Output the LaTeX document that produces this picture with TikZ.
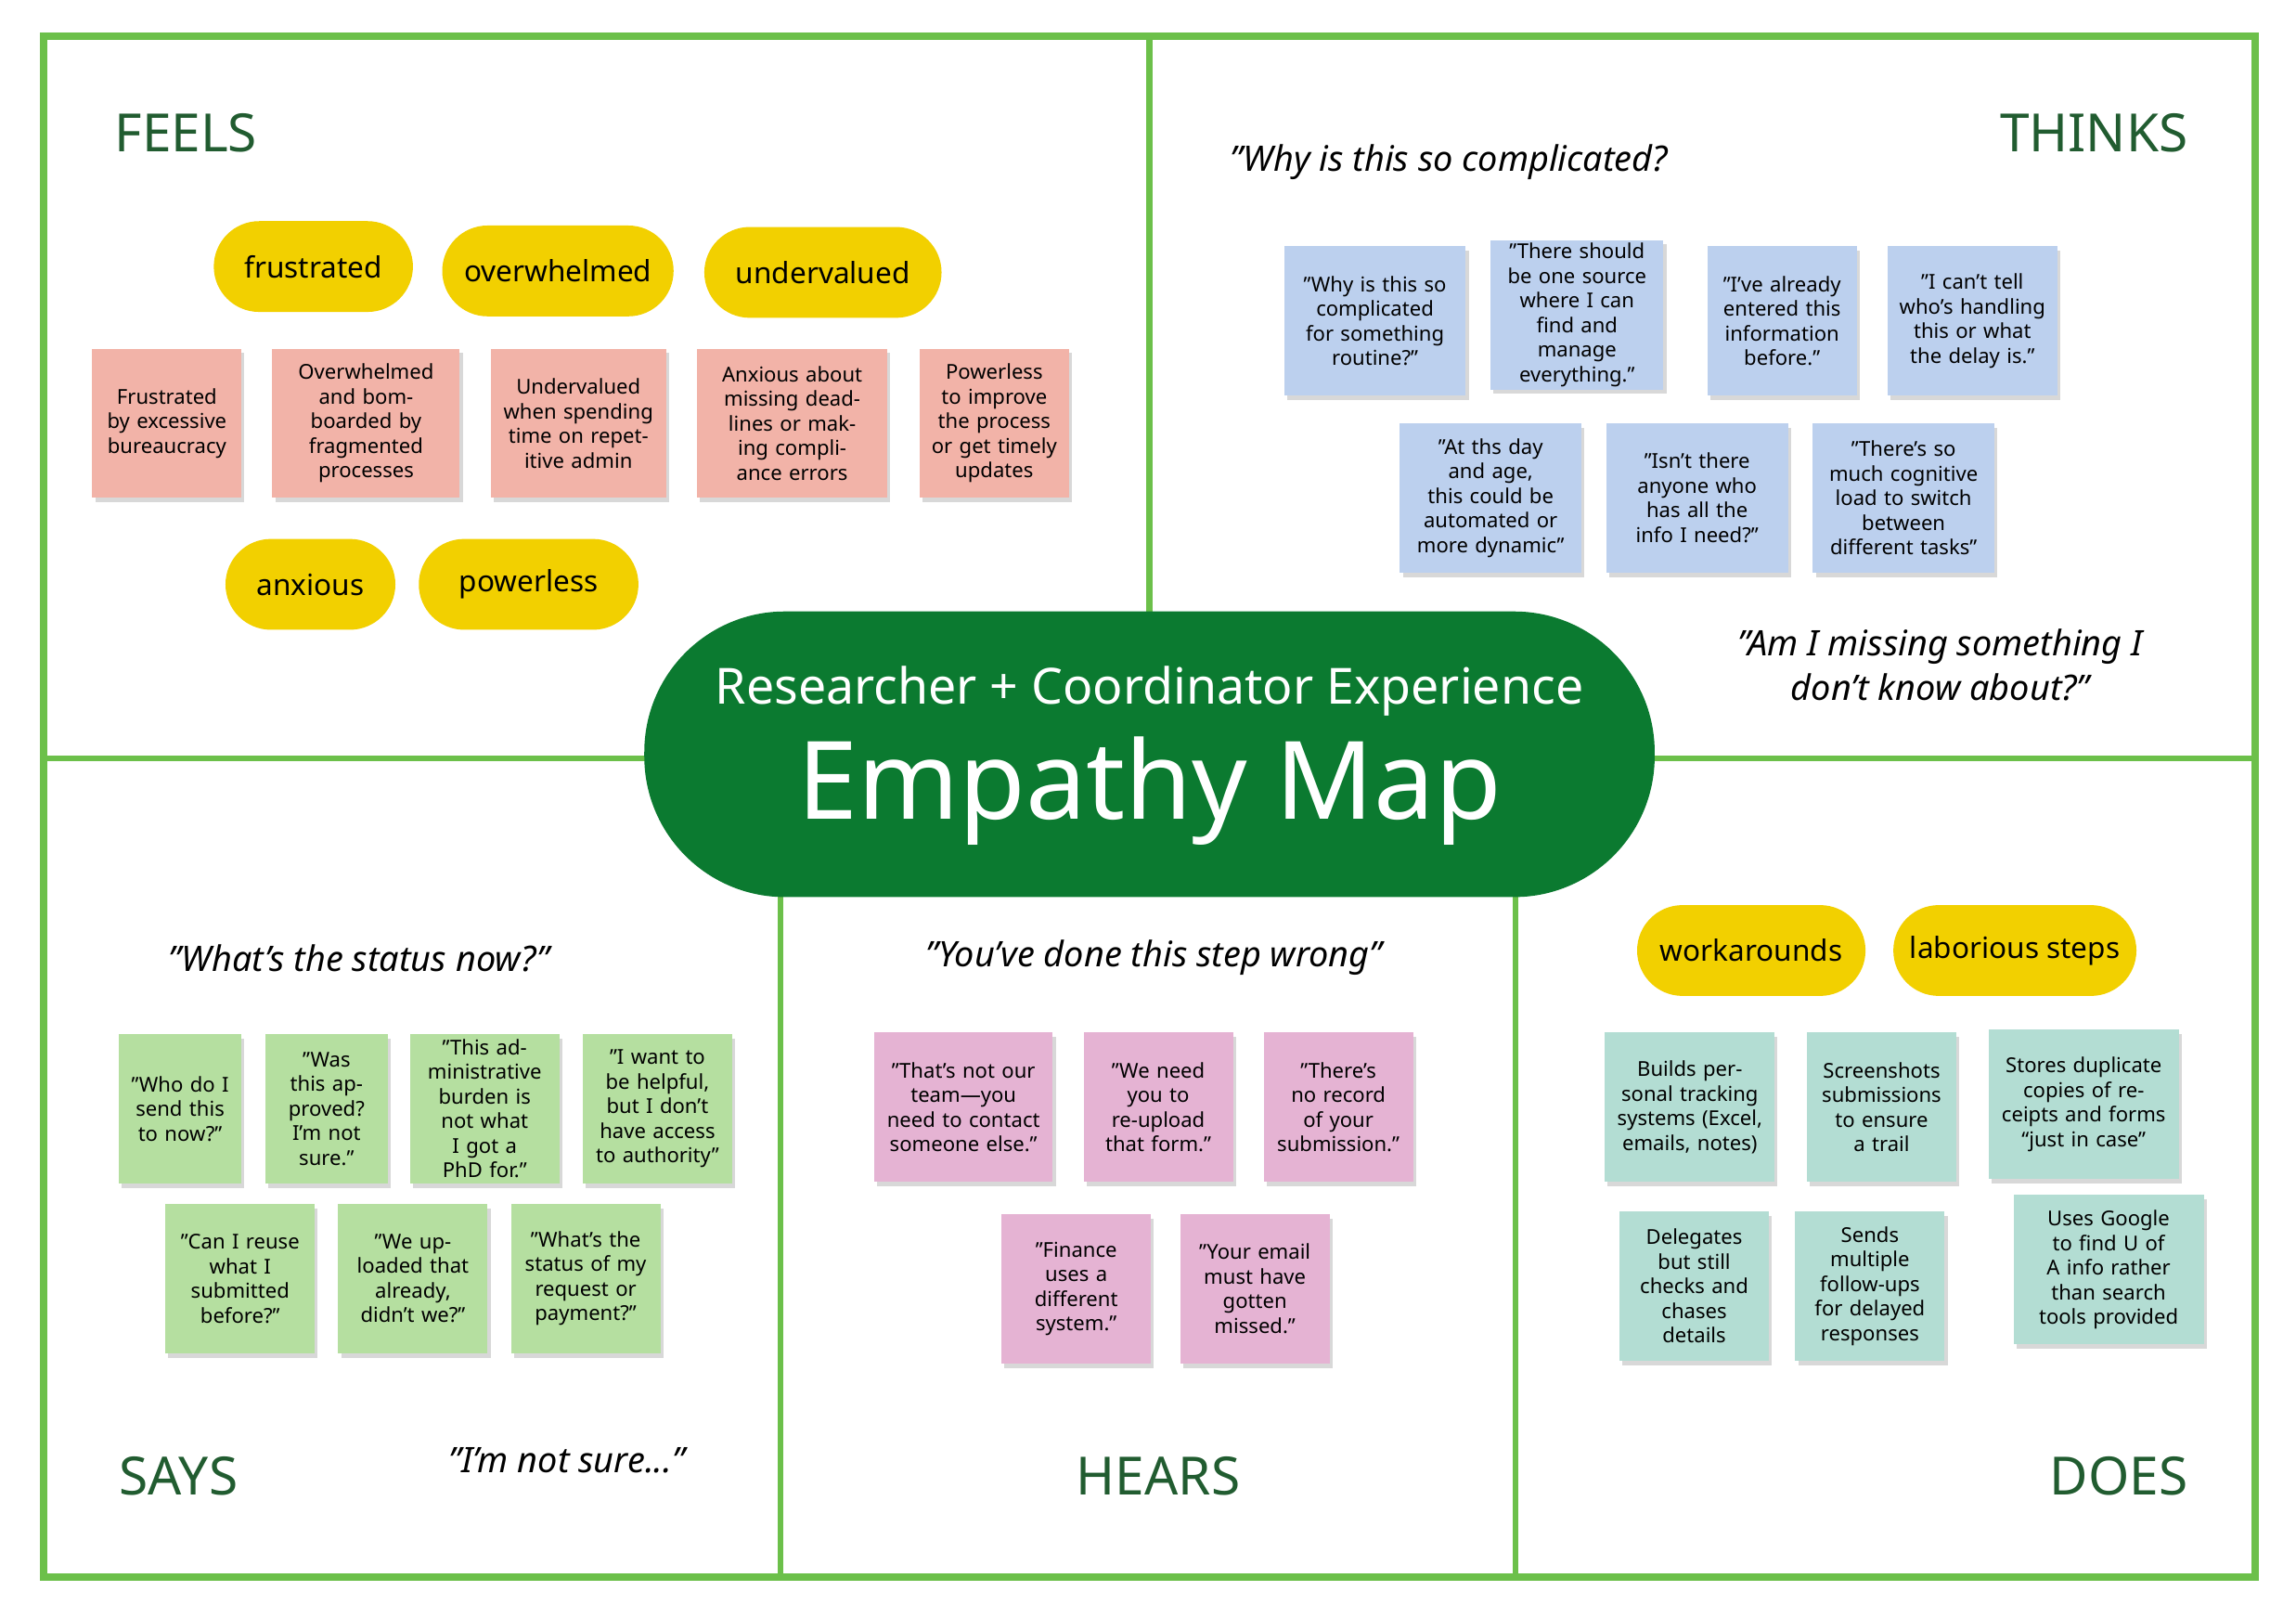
\documentclass[tikz,border=0pt]{standalone}
\usepackage{fontspec}
\setmainfont{Noto Sans}
\usetikzlibrary{shadows}
\definecolor{frame}{HTML}{6CC04A}
\definecolor{dgreen}{HTML}{0B7A30}
\definecolor{lbl}{HTML}{215C30}
\definecolor{yel}{HTML}{F2D000}
\definecolor{salmon}{HTML}{F2B3A8}
\definecolor{blu}{HTML}{BCD0EE}
\definecolor{grn}{HTML}{B5DFA0}
\definecolor{pnk}{HTML}{E5B3D3}
\definecolor{teal}{HTML}{B3DDD3}
\begin{document}
\begin{tikzpicture}[x=0.5pt,y=-0.5pt,
 note/.style={fill=#1,draw=none,minimum height=51pt,align=center,inner sep=1pt,
   font=\fontsize{7}{8.4}\selectfont,drop shadow={opacity=0.3,shadow xshift=1pt,shadow yshift=-1.5pt}},
 pill/.style={fill=yel,rounded corners=15.5pt,minimum height=31pt,font=\bfseries\fontsize{10}{12}\selectfont},
 lab/.style={text=lbl,font=\bfseries\fontsize{18}{20}\selectfont},
 quo/.style={font=\itshape\fontsize{12}{15}\selectfont,align=center},
 w/.style={minimum width=#1*0.5pt,text width=#1*0.5pt-8pt}]
\useasboundingbox (0,0) rectangle (1568,1095);
\fill[white] (0,0) rectangle (1568,1095);
\draw[frame,line width=2.5pt] (30,25) rectangle (1540,1077);
\draw[frame,line width=2pt] (785,25)--(785,518) (30,518)--(1540,518) (533,518)--(533,1077) (1035,518)--(1035,1077);
\node[fill=dgreen,rounded corners=48pt,minimum width=345pt,minimum height=97.5pt] (c) at (785,515) {};
\node[text=white,font=\fontsize{17}{20}\selectfont] (t1) at (785,472) {Researcher + Coordinator Experience};
\node[text=white,font=\bfseries\fontsize{37}{40}\selectfont] (t2) at (785,540) {Empathy Map};
\node[lab] (l1) at (127,91) {FEELS};
\node[lab] (l2) at (1430,91) {THINKS};
\node[lab] (l3) at (122,1008) {SAYS};
\node[lab] (l4) at (791,1008) {HEARS};
\node[lab] (l5) at (1447,1008) {DOES};
% pills
\node[pill,minimum width=68pt] (p1) at (214,182) {frustrated};
\node[pill,minimum width=79pt] (p2) at (381,185) {overwhelmed};
\node[pill,minimum width=81pt] (p3) at (562,186) {undervalued};
\node[pill,minimum width=58pt] (p4) at (212,399) {anxious};
\node[pill,minimum width=75pt] (p5) at (361,399) {powerless};
\node[pill,minimum width=78pt] (p6) at (1196,649) {workarounds};
\node[pill,minimum width=83pt] (p7) at (1376,649) {laborious steps};
% feels
\node[note=salmon,w=102] (f1) at (114,289) {Frustrated by excessive bureaucracy};
\node[note=salmon,w=128] (f2) at (250,289) {Overwhelmed and bomboarded by fragmented processes};
\node[note=salmon,w=120] (f3) at (395,289) {Undervalued when spending time on repetitive admin};
\node[note=salmon,w=130] (f4) at (541,289) {Anxious about missing deadlines or making compliance errors};
\node[note=salmon,w=102] (f5) at (679,289) {Powerless to improve the process or get timely updates};
% thinks
\node[quo,anchor=west] (q1) at (833,111) {"Why is this so complicated?};
\node[note=blu,w=124] (b1) at (939,219) {"Why is this so complicated for something routine?"};
\node[note=blu,w=118] (b2) at (1077,215) {"There should be one source where I can find and manage everything."};
\node[note=blu,w=102] (b3) at (1217,219) {"I've already entered this information before."};
\node[note=blu,w=116] (b4) at (1347,219) {"I can't tell who's handling this or what the delay is."};
\node[note=blu,w=124] (b5) at (1018,340) {"At ths day and age, this could be automated or more dynamic"};
\node[note=blu,w=124] (b6) at (1159,340) {"Isn't there anyone who has all the info I need?"};
\node[note=blu,w=124] (b7) at (1300,340) {"There's so much cognitive load to switch between different tasks"};
\node[quo] (q2) at (1325,454) {"Am I missing something I\\don't know about?"};
% says
\node[quo] (q3) at (245,654) {"What's the status now?"};
\node[note=grn,w=84] (s1) at (123,757) {"Who do I send this to now?"};
\node[note=grn,w=84] (s2) at (223,757) {"Was this approved? I'm not sure."};
\node[note=grn,w=102] (s3) at (331,757) {"This administrative burden is not what I got a PhD for."};
\node[note=grn,w=102] (s4) at (449,757) {"I want to be helpful, but I don't have access to authority"};
\node[note=grn,w=102] (s5) at (164,873) {"Can I reuse what I submitted before?"};
\node[note=grn,w=102] (s6) at (282,873) {"We uploaded that already, didn't we?"};
\node[note=grn,w=102] (s7) at (400,873) {"What's the status of my request or payment?"};
\node[quo] (q4) at (387,997) {"I'm not sure..."};
% hears
\node[quo] (q5) at (788,654) {"You've done this step wrong"};
\node[note=pnk,w=122] (h1) at (658,756) {"That's not our team—you need to contact someone else."};
\node[note=pnk,w=102] (h2) at (791,756) {"We need you to re-upload that form."};
\node[note=pnk,w=102] (h3) at (914,756) {"There's no record of your submission."};
\node[note=pnk,w=102] (h4) at (735,880) {"Finance uses a different system."};
\node[note=pnk,w=102] (h5) at (857,880) {"Your email must have gotten missed."};
% does
\node[note=teal,w=116] (d1) at (1154,756) {Builds personal tracking systems (Excel, emails, notes)};
\node[note=teal,w=102] (d2) at (1285,756) {Screenshots submissions to ensure a trail};
\node[note=teal,w=130] (d3) at (1423,754) {Stores duplicate copies of receipts and forms “just in case”};
\node[note=teal,w=102] (d4) at (1157,878) {Delegates but still checks and chases details};
\node[note=teal,w=102] (d5) at (1277,878) {Sends multiple follow-ups for delayed responses};
\node[note=teal,w=130] (d6) at (1440,867) {Uses Google to find U of A info rather than search tools provided};
\end{tikzpicture}
\end{document}
